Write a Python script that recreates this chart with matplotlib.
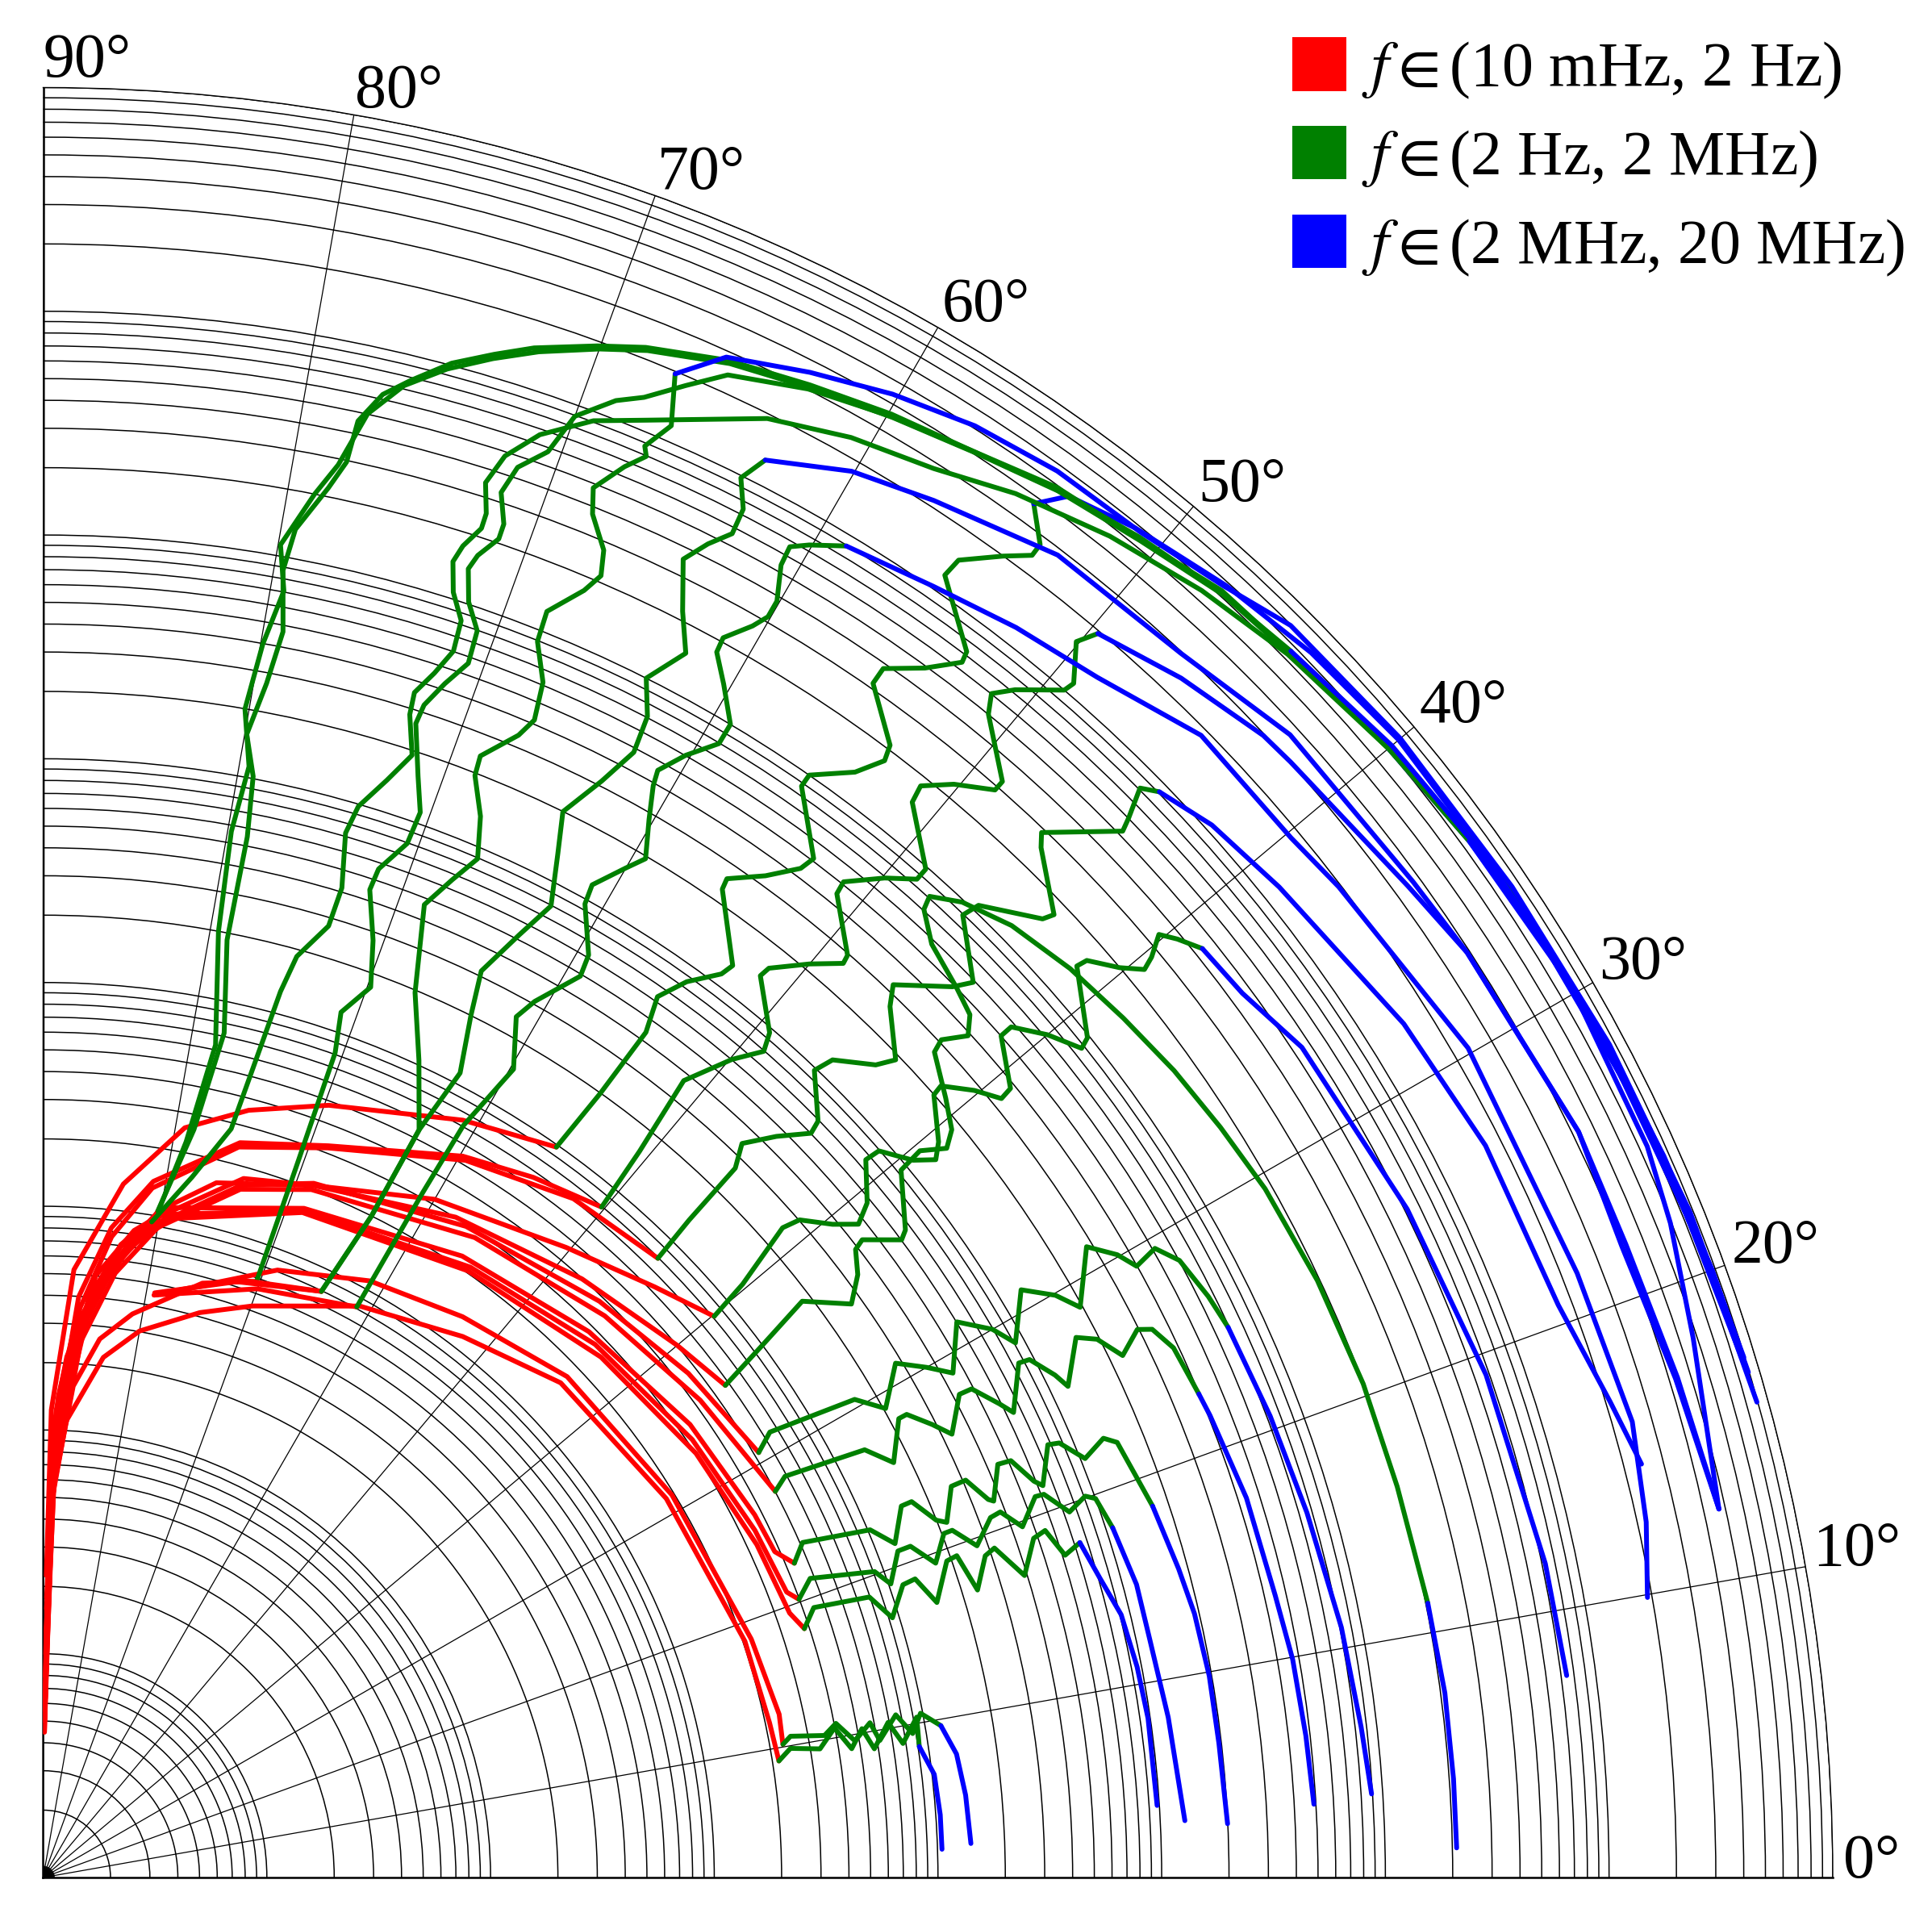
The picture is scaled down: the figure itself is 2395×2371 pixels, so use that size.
import numpy as np
import matplotlib
matplotlib.use('Agg')
import matplotlib.pyplot as plt
from matplotlib.patches import Patch

plt.rcParams['font.family'] = ['Liberation Serif', 'DejaVu Serif']
plt.rcParams['mathtext.fontset'] = 'stix'

# each point is (phase angle in degrees, log10 of magnitude)
# red: 10 mHz - 2 Hz, green: 2 Hz - 2 MHz, blue: 2 MHz - 20 MHz

a1_red = [(89.4, 1.35), (89.0, 2.09), (87.1, 2.72), (83.4, 3.12), (79.3, 3.41), (75.0, 3.55), (69.7, 3.68), (61.0, 3.87),
          (54.9, 3.99)]
a1_green = [(54.9, 3.99), (54.6, 4.30), (54.5, 4.64), (55.1, 4.80), (54.3, 4.93), (53.1, 5.05), (52.9, 5.11), (55.5, 5.36),
            (55.6, 5.41), (54.2, 5.52), (53.1, 5.64), (52.9, 5.71), (55.2, 5.94), (55.2, 6.00), (53.7, 6.13), (53.0, 6.25),
            (53.2, 6.32), (55.2, 6.50), (55.2, 6.58), (53.9, 6.69), (52.9, 6.81), (53.0, 6.86), (55.3, 7.08), (55.2, 7.17),
            (54.0, 7.30), (53.2, 7.38), (53.2, 7.44), (54.2, 7.57)]
a1_blue = [(54.2, 7.57), (53.4, 7.69), (51.0, 7.76), (47.5, 7.83), (44.0, 7.88), (40.0, 7.91), (34.0, 7.91), (29.6, 7.90),
           (24.5, 7.88), (21.9, 7.84), (18.1, 7.76), (12.4, 7.67)]

a2_red = [(89.4, 0.9), (88.8, 1.9), (86.5, 2.6), (84.0, 2.92), (81.0, 3.15), (75.0, 3.40), (68.7, 3.51), (59.8, 3.73),
          (55.0, 3.82), (50.2, 3.90)]
a2_green = [(50.2, 3.90), (50.6, 4.20), (51.2, 4.57), (49.9, 4.78), (48.9, 4.90), (49.3, 4.98), (51.5, 5.15), (51.4, 5.20),
            (50.0, 5.33), (48.8, 5.43), (48.9, 5.47), (51.1, 5.65), (51.2, 5.71), (49.9, 5.84), (48.8, 5.93), (48.8, 5.99),
            (51.05, 6.18), (51.2, 6.26), (50.2, 6.36), (48.8, 6.46), (48.8, 6.51), (50.9, 6.70), (51.3, 6.78), (50.7, 6.86),
            (49.3, 7.00), (49.2, 7.05), (50.1, 7.20), (49.7, 7.29)]
a2_blue = [(49.7, 7.29), (46.5, 7.39), (43.1, 7.47), (41.8, 7.48), (36.0, 7.54), (33.0, 7.59), (25.9, 7.63), (21.8, 7.62),
           (17.0, 7.64), (12.4, 7.67)]

a3_red = [(89.5, 0.75), (88.8, 1.8), (86.3, 2.55), (83.9, 2.88), (81.0, 3.12), (75.0, 3.38), (68.7, 3.50), (59.5, 3.72),
          (52.0, 3.85), (45.2, 3.90)]
a3_green = [(45.2, 3.90), (45.5, 4.12), (45.7, 4.43), (46.4, 4.53), (45.3, 4.66), (44.1, 4.78), (44.3, 4.84), (46.3, 4.99),
            (46.0, 5.08), (44.3, 5.20), (43.8, 5.28), (45.8, 5.43), (46.4, 5.51), (44.4, 5.69), (43.9, 5.77), (46.3, 5.95),
            (46.1, 6.03), (43.8, 6.19), (43.6, 6.24), (45.9, 6.41), (46.3, 6.46), (44.1, 6.72), (44.3, 6.78), (44.8, 6.91),
            (44.2, 6.96)]
a3_blue = [(44.2, 6.96), (42.0, 7.03), (38.7, 7.08), (32.1, 7.18), (26.9, 7.23), (20.7, 7.24), (16.9, 7.32), (14.5, 7.38)]

a4_red = [(89.5, 0.65), (88.9, 1.6), (87.0, 2.35), (85.2, 2.62), (83.0, 2.85), (79.5, 3.05), (76.0, 3.20), (68.7, 3.32),
          (60.0, 3.50), (50.3, 3.66), (44.0, 3.80), (39.9, 3.91)]
a4_green = [(39.9, 3.91), (40.3, 4.10), (41.3, 4.40), (41.0, 4.48), (39.6, 4.58), (38.7, 4.67), (39.3, 4.76), (41.1, 4.88),
            (41.0, 4.95), (39.5, 5.04), (38.8, 5.12), (39.4, 5.18), (41.3, 5.30), (41.4, 5.35), (40.2, 5.45), (39.1, 5.52),
            (39.2, 5.58), (41.3, 5.70), (41.3, 5.76), (40.0, 5.86), (38.6, 5.94), (38.8, 5.99), (41.4, 6.16), (41.3, 6.21),
            (40.2, 6.30), (39.5, 6.38), (39.7, 6.44), (40.2, 6.53), (39.6, 6.58), (38.7, 6.64)]
a4_blue = [(38.7, 6.64), (36.4, 6.66), (33.4, 6.74), (26.1, 6.79), (19.2, 6.83), (11.8, 6.86), (7.55, 6.87)]

a5_red = [(89.3, 1.1), (88.5, 2.0), (85.5, 2.6), (83.0, 2.84), (80.0, 3.0), (74.0, 3.25), (68.7, 3.32), (58.0, 3.48),
          (48.0, 3.60), (40.0, 3.70), (35.8, 3.76)]
a5_green = [(35.8, 3.76), (36.5, 4.00), (37.2, 4.26), (35.35, 4.43), (36.5, 4.53), (37.7, 4.59), (37.9, 4.64), (36.6, 4.78),
            (36.9, 4.82), (39.5, 4.97), (39.65, 5.09), (38.9, 5.19), (39.45, 5.26), (40.8, 5.33), (42.8, 5.43), (43.0, 5.49),
            (42.3, 5.59), (42.95, 5.66), (44.25, 5.70), (46.4, 5.76), (47.7, 5.85), (47.9, 5.91), (46.7, 5.99), (44.5, 6.07),
            (41.5, 6.13), (38.5, 6.17), (35.5, 6.21), (32.5, 6.24), (29.4, 6.27), (25.1, 6.29), (20.5, 6.30), (16.1, 6.30),
            (11.2, 6.31)]
a5_blue = [(11.2, 6.31), (7.5, 6.32), (4.0, 6.32), (1.2, 6.32)]

a6_red = [(89.3, 0.8), (88.6, 1.8), (86.0, 2.45), (83.4, 2.75), (80.5, 2.95), (74.0, 3.22), (68.7, 3.33), (57.0, 3.47),
          (46.0, 3.58), (38.0, 3.66), (30.7, 3.72)]
a6_green = [(30.7, 3.72), (31.5, 3.81), (30.5, 4.21), (29.1, 4.31), (31.1, 4.45), (30.0, 4.56), (29.0, 4.65), (31.3, 4.78),
            (30.0, 4.90), (28.8, 4.96), (31.0, 5.10), (29.9, 5.22), (28.8, 5.29), (31.15, 5.45), (30.1, 5.55), (29.2, 5.60),
            (29.5, 5.71), (28.5, 5.78), (26.5, 5.82), (24.9, 5.84)]
a6_blue = [(24.9, 5.84), (20.6, 5.86), (16.1, 5.88), (10.9, 5.91), (6.5, 5.93), (3.6, 5.95)]

a7_red = [(89.4, 0.7), (88.6, 1.7), (86.0, 2.4), (83.2, 2.72), (80.0, 2.95), (74.0, 3.20), (68.7, 3.30), (56.0, 3.45),
          (45.0, 3.55), (36.0, 3.63), (27.8, 3.70)]
a7_green = [(27.8, 3.70), (28.4, 3.77), (27.5, 4.14), (26.0, 4.23), (28.2, 4.34), (28.2, 4.38), (27.0, 4.46), (26.0, 4.52),
            (27.8, 4.63), (27.75, 4.69), (26.35, 4.77), (25.6, 4.81), (27.8, 4.93), (27.7, 4.98), (26.4, 5.05), (25.6, 5.08),
            (27.6, 5.21), (27.05, 5.29), (25.8, 5.36), (26.6, 5.47), (26.3, 5.53), (25.1, 5.58), (22.7, 5.60)]
a7_blue = [(22.7, 5.60), (21.6, 5.61), (17.5, 5.64), (12.9, 5.65), (9.9, 5.67), (6.4, 5.68), (3.3, 5.69)]

a8_red = [(89.3, 1.2), (88.2, 2.1), (85.0, 2.7), (82.0, 2.92), (79.0, 3.05), (68.7, 3.21), (56.0, 3.35), (45.0, 3.45),
          (35.0, 3.53), (27.0, 3.57), (24.0, 3.58), (22.7, 3.64)]
a8_green = [(22.7, 3.64), (23.8, 3.71), (22.8, 4.01), (21.4, 4.09), (23.4, 4.18), (23.4, 4.23), (21.8, 4.30), (21.45, 4.34),
            (23.3, 4.42), (23.3, 4.49), (21.8, 4.55), (21.6, 4.57), (23.4, 4.65), (23.3, 4.71), (21.8, 4.77), (21.4, 4.80),
            (23.3, 4.89), (23.15, 4.94), (21.9, 5.02), (22.5, 5.13), (22.05, 5.18), (18.5, 5.23)]
a8_blue = [(18.5, 5.23), (15.2, 5.26), (12.9, 5.28), (9.8, 5.29), (6.5, 5.29), (2.6, 5.30)]

a9_red = [(89.4, 0.9), (88.3, 2.0), (85.0, 2.65), (82.0, 2.88), (79.0, 3.02), (68.7, 3.20), (55.0, 3.33), (44.0, 3.43),
          (34.0, 3.50), (26.0, 3.54), (21.0, 3.56), (20.2, 3.60)]
a9_green = [(20.2, 3.60), (21.3, 3.68), (20.2, 3.96), (19.1, 4.01), (20.9, 4.09), (20.9, 4.15), (19.4, 4.23), (20.9, 4.31),
            (20.9, 4.35), (19.55, 4.43), (20.8, 4.53), (20.9, 4.58), (19.7, 4.65), (21.0, 4.75), (20.95, 4.79), (19.6, 4.87),
            (20.1, 4.96), (19.8, 5.00), (18.1, 5.03)]
a9_blue = [(18.1, 5.03), (15.0, 5.06), (12.1, 5.06), (8.1, 5.08), (2.85, 5.11)]

a10_red = [(89.5, 0.75), (88.4, 1.9), (85.2, 2.6), (82.0, 2.85), (79.0, 3.0), (68.7, 3.19), (55.0, 3.31), (43.0, 3.41),
           (33.0, 3.48), (25.0, 3.52), (19.5, 3.54), (18.1, 3.58)]
a10_green = [(18.1, 3.58), (19.3, 3.65), (18.75, 3.90), (17.0, 3.97), (18.8, 4.06), (18.9, 4.12), (17.1, 4.18), (19.3, 4.28),
             (19.4, 4.33), (17.1, 4.37), (18.85, 4.45), (19.1, 4.50), (17.1, 4.59), (18.9, 4.68), (19.1, 4.74), (17.5, 4.79),
             (17.9, 4.87)]
a10_blue = [(17.9, 4.87), (15.8, 4.91), (13.7, 4.96), (10.9, 4.98), (8.2, 4.99), (3.7, 4.99)]

a11_red = [(89.5, 0.65), (88.9, 1.40), (88.9, 1.86), (87.0, 2.05), (83.4, 2.34), (80.0, 2.48), (74.5, 2.62), (69.9, 2.72),
           (61.0, 2.92), (52.2, 3.06), (43.7, 3.20), (31.3, 3.26), (18.6, 3.31), (12.0, 3.32), (9.0, 3.33)]
a11_green = [(9.0, 3.33), (9.8, 3.39), (9.4, 3.52), (10.7, 3.60), (9.05, 3.66), (10.3, 3.72), (8.8, 3.76), (10.4, 3.84),
             (8.86, 3.89), (10.4, 3.97), (8.5, 3.96)]
a11_blue = [(8.5, 3.96), (6.6, 4.01), (4.0, 4.02), (1.8, 4.02)]

a12_red = [(79.2, 2.65), (68.9, 2.91), (61.3, 3.04), (53.2, 3.13), (43.7, 3.24), (31.3, 3.29), (18.6, 3.34), (12.5, 3.37),
           (10.2, 3.36)]
a12_green = [(10.2, 3.36), (10.7, 3.40), (10.3, 3.55), (11.0, 3.61), (9.55, 3.68), (10.6, 3.76), (9.3, 3.79), (10.8, 3.88),
             (9.4, 3.94), (10.6, 3.99), (9.6, 4.07)]
a12_blue = [(9.6, 4.07), (7.7, 4.12), (5.1, 4.14), (2.1, 4.15)]

b1_red = [(89.4, 1.0), (88.9, 1.40), (88.9, 1.86), (88.4, 2.09), (87.4, 2.33), (85.6, 2.56), (83.5, 2.75), (80.4, 2.99)]
b1_green = [(80.4, 2.99), (78.6, 3.41), (77.9, 3.86), (78.9, 4.27), (78.9, 4.74), (79.2, 5.01), (79.9, 5.19), (79.4, 5.43),
            (79.1, 5.67), (79.6, 5.94), (79.4, 6.13), (78.4, 6.34), (77.9, 6.47), (77.8, 6.66), (77.1, 6.80), (76.2, 6.89),
            (74.9, 7.01), (73.5, 7.10), (72.2, 7.18), (70.1, 7.28), (68.5, 7.35), (65.7, 7.44), (62.8, 7.50), (59.9, 7.56),
            (56.9, 7.61), (53.9, 7.69), (50.7, 7.73), (47.5, 7.80), (44.5, 7.81), (40.0, 7.86), (36.0, 7.89), (33.2, 7.91)]
b1_blue = [(33.2, 7.91), (29.0, 7.92), (24.0, 7.93), (20.0, 7.94), (16.5, 7.95)]

b1b_red = [(89.5, 0.85), (89.0, 1.6), (88.2, 2.15), (86.8, 2.45), (84.5, 2.68), (82.0, 2.88), (80.2, 3.02)]
b1b_green = [(80.2, 3.02), (79.0, 3.35), (78.3, 3.80), (79.5, 4.30), (79.8, 4.75), (79.5, 5.05), (80.2, 5.30), (79.9, 5.60),
             (79.4, 5.85), (79.9, 6.05), (78.9, 6.30), (78.2, 6.45), (77.5, 6.70), (76.4, 6.86), (75.0, 6.98), (73.5, 7.08),
             (72.0, 7.17), (70.0, 7.27), (68.4, 7.34), (65.6, 7.43), (62.7, 7.49), (59.8, 7.55), (56.8, 7.61), (53.8, 7.68),
             (50.6, 7.73), (47.4, 7.79), (44.4, 7.81), (40.0, 7.85)]
b1b_blue = [(40.0, 7.85), (36.0, 7.88), (32.0, 7.90), (27.0, 7.91), (22.0, 7.92), (17.0, 7.94)]

b2_red = [(89.3, 1.25), (88.5, 2.0), (86.5, 2.45), (83.5, 2.75), (80.6, 2.97)]
b2_green = [(80.6, 2.97), (78.0, 3.20), (75.9, 3.45), (75.0, 4.10), (74.6, 4.27), (73.3, 4.44), (73.2, 4.62), (73.85, 4.86),
            (73.6, 4.99), (72.6, 5.14), (71.8, 5.28), (72.5, 5.45), (72.6, 5.55), (72.0, 5.66), (71.5, 5.78), (71.6, 5.92),
            (72.3, 6.03), (72.7, 6.16), (72.5, 6.24), (72.0, 6.34), (72.0, 6.41), (72.4, 6.54), (72.0, 6.68), (71.0, 6.82),
            (69.3, 6.96), (67.5, 7.05), (63.6, 7.28), (60.7, 7.38), (57.7, 7.45), (54.9, 7.56), (51.5, 7.66), (48.0, 7.74),
            (44.5, 7.80), (40.0, 7.85), (36.0, 7.88)]
b2_blue = [(36.0, 7.88), (31.0, 7.90), (26.0, 7.92), (21.0, 7.93), (17.5, 7.94)]

b3_red = [(89.5, 0.8), (88.7, 1.7), (86.5, 2.2), (84.0, 2.42), (81.0, 2.55), (75.0, 2.75), (70.3, 2.83)]
b3_green = [(70.3, 2.83), (70.4, 3.40), (70.5, 3.91), (71.0, 4.09), (69.8, 4.24), (70.6, 4.44), (71.7, 4.65), (71.6, 4.75),
            (70.6, 4.90), (70.5, 5.05), (71.2, 5.20), (72.1, 5.42), (72.0, 5.51), (71.4, 5.63), (70.7, 5.75), (70.8, 5.90),
            (71.55, 6.01), (72.0, 6.15), (71.8, 6.22), (71.2, 6.32), (71.2, 6.39), (71.7, 6.52), (71.4, 6.65), (70.5, 6.76),
            (70.0, 6.95), (68.8, 7.08), (67.9, 7.14), (66.7, 7.26), (65.5, 7.38), (62.8, 7.48), (59.9, 7.55), (56.9, 7.61),
            (53.9, 7.68), (50.7, 7.74), (47.5, 7.79), (44.5, 7.82)]
b3_blue = [(44.5, 7.82), (40.0, 7.87), (35.0, 7.90), (30.0, 7.91), (25.0, 7.92), (20.0, 7.93), (15.5, 7.95)]

b4_red = [(79.2, 2.66), (72.0, 2.80), (64.6, 2.90)]
b4_green = [(64.6, 2.90), (63.6, 3.30), (63.3, 3.74), (65.3, 4.02), (67.2, 4.29), (68.6, 4.67), (67.7, 4.82), (66.9, 4.95),
            (67.6, 5.13), (68.6, 5.29), (68.7, 5.38), (67.4, 5.53), (67.0, 5.62), (67.3, 5.79), (68.2, 5.95), (68.3, 6.09),
            (67.2, 6.24), (66.8, 6.33), (67.1, 6.44), (68.05, 6.57), (68.4, 6.68), (67.6, 6.82), (67.0, 6.90), (67.2, 6.94),
            (66.6, 7.07), (67.2, 7.29)]
b4_blue = [(67.2, 7.29), (65.8, 7.45), (63.0, 7.55), (60.2, 7.64), (57.3, 7.71), (54.2, 7.75), (50.8, 7.76), (47.6, 7.82),
           (45.1, 7.90), (40.0, 7.92), (34.0, 7.92), (28.0, 7.93), (22.0, 7.94), (17.0, 7.95)]

b5_red = [(79.2, 2.65), (72.0, 2.81), (64.6, 2.90)]
b5_green = [(64.6, 2.90), (63.6, 3.30), (63.3, 3.74), (62.6, 4.05), (63.6, 4.30), (64.2, 4.50), (63.2, 4.72), (62.4, 4.90),
            (63.3, 5.12), (64.0, 5.30), (63.0, 5.50), (62.3, 5.68), (62.5, 5.85), (63.3, 6.00), (62.3, 6.18), (63.2, 6.34),
            (64.1, 6.55), (63.5, 6.66), (62.85, 6.75), (62.9, 6.87), (63.5, 6.99), (63.0, 7.11)]
b5_blue = [(63.0, 7.11), (60.1, 7.25), (57.1, 7.33), (52.5, 7.45), (47.1, 7.47), (42.5, 7.56), (36.0, 7.57), (33.0, 7.59),
           (25.9, 7.63), (21.8, 7.60), (17.0, 7.63), (12.4, 7.67)]

b6_red = [(79.2, 2.65), (70.0, 2.80), (61.2, 2.91)]
b6_green = [(61.2, 2.91), (61.0, 3.50), (60.8, 3.85), (59.8, 4.18), (61.2, 4.39), (60.7, 4.49), (59.2, 4.69), (59.4, 4.79),
            (60.9, 4.98), (61.05, 5.07), (60.0, 5.21), (59.4, 5.29), (60.2, 5.45), (60.8, 5.59), (60.96, 5.66), (60.2, 5.78),
            (59.2, 5.90), (59.2, 6.00), (60.3, 6.14), (61.2, 6.25), (61.25, 6.32), (60.45, 6.43), (60.1, 6.50), (60.1, 6.58),
            (60.65, 6.73), (60.7, 6.82), (60.1, 6.87), (58.9, 6.95)]
b6_blue = [(58.9, 6.95), (55.4, 7.01), (52.1, 7.08), (48.7, 7.14), (44.6, 7.27), (39.8, 7.26), (37.4, 7.29), (30.2, 7.37),
           (21.5, 7.37), (16.0, 7.39), (12.5, 7.34), (9.9, 7.28)]

curves = [
    (a1_red, a1_green, a1_blue), (a2_red, a2_green, a2_blue), (a3_red, a3_green, a3_blue),
    (a4_red, a4_green, a4_blue), (a5_red, a5_green, a5_blue), (a6_red, a6_green, a6_blue),
    (a7_red, a7_green, a7_blue), (a8_red, a8_green, a8_blue), (a9_red, a9_green, a9_blue),
    (a10_red, a10_green, a10_blue), (a11_red, a11_green, a11_blue), (a12_red, a12_green, a12_blue),
    (b1_red, b1_green, b1_blue), (b1b_red, b1b_green, b1b_blue), (b2_red, b2_green, b2_blue),
    (b3_red, b3_green, b3_blue), (b4_red, b4_green, b4_blue), (b5_red, b5_green, b5_blue),
    (b6_red, b6_green, b6_blue),
]

band_colors = ['#ff0000', '#008000', '#0000ff']
legend_labels = [r'$f\in$(10 mHz, 2 Hz)', r'$f\in$(2 Hz, 2 MHz)', r'$f\in$(2 MHz, 20 MHz)']
angle_ticks = [0, 10, 20, 30, 40, 50, 60, 70, 80, 90]
angle_labels = ['0°', '10°', '20°', '30°', '40°', '50°', '60°', '70°', '80°', '90°']
n_decades = 8

W, H = 2395, 2371
fig = plt.figure(figsize=(W / 100, H / 100), dpi=100)
R = 2218.5
ax = fig.add_axes([53.5 / W, (H - 2327) / H, R / W, R / H], projection='polar')
ax.set_thetamin(0)
ax.set_thetamax(90)
ax.set_rscale('log')

# grid: every 1..9 x 10^k circle, spokes every 10 degrees
major = [10.0 ** k for k in range(0, n_decades + 1)]
minor = [m * 10.0 ** k for k in range(0, n_decades) for m in range(2, 10)]
ax.set_yticks(major)
ax.set_yticks(minor, minor=True)
ax.set_yticklabels([])
ax.set_yticklabels([], minor=True)
ax.set_xticks(np.radians(angle_ticks))
ax.set_xticklabels([])
ax.tick_params(axis='both', which='both', length=0)
ax.yaxis.grid(True, which='both', color='black', lw=1.1)
ax.xaxis.grid(True, color='black', lw=0.9)

# short spokes right at the origin
for a in range(2, 90, 2):
    if a % 10:
        ax.plot([np.radians(a)] * 2, [1, 10 ** 0.05], color='black', lw=0.6, zorder=1)

for segs in curves:
    for seg, col in zip(segs, band_colors):
        th = np.radians([p[0] for p in seg])
        r = 10.0 ** np.array([p[1] for p in seg])
        ax.plot(th, r, color=col, lw=4.3, solid_joinstyle='round', solid_capstyle='round', zorder=3)

ax.set_rlim(1, 10.0 ** n_decades)

ax.spines['polar'].set_linewidth(1.0)
ax.spines['start'].set_linewidth(1.8)
ax.spines['end'].set_linewidth(1.8)

# angle labels sit just outside the rim, starting at the end of each spoke
for a, lab in zip(angle_ticks, angle_labels):
    rr = 10 ** (n_decades * (1.006 if a in (0, 90) else 1.004))
    ax.text(np.radians(a), rr, lab, ha='left', va='baseline', fontsize=56, clip_on=False)

handles = [Patch(facecolor=c, edgecolor='none') for c in band_colors]
fig.legend(handles, legend_labels, loc='upper left', bbox_to_anchor=(1602 / W, 1 - 46 / H),
           bbox_transform=fig.transFigure, frameon=False, fontsize=56, handlelength=0.86, handleheight=0.94,
           handletextpad=0.25, labelspacing=0.4, borderpad=0, borderaxespad=0)

fig.savefig('out.png', dpi=100, facecolor='white')
